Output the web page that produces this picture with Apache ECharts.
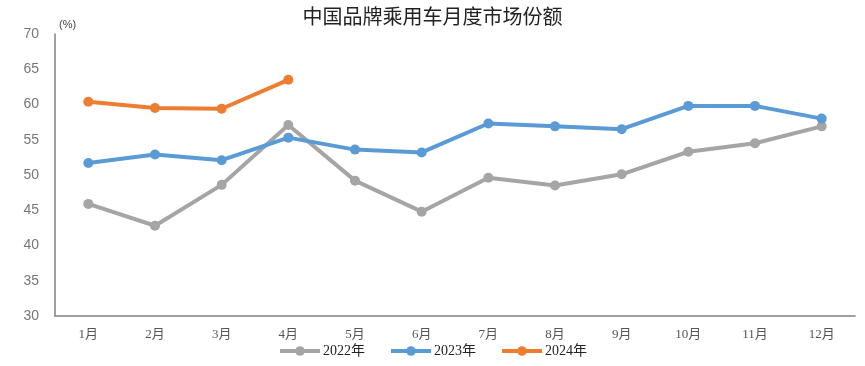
<!DOCTYPE html>
<html><head><meta charset="utf-8">
<script src="https://cdn.jsdelivr.net/npm/echarts@6/dist/echarts.min.js"></script>
<style>html,body{margin:0;padding:0;background:#fff}#c{width:865px;height:366px}</style>
</head><body><div id="c"></div>
<script>
const categories = ['1月','2月','3月','4月','5月','6月','7月','8月','9月','10月','11月','12月'];
const s2022 = [45.9, 42.8, 48.6, 57.1, 49.2, 44.8, 49.6, 48.5, 50.1, 53.3, 54.5, 56.9];
const s2023 = [51.7, 52.9, 52.1, 55.3, 53.6, 53.2, 57.3, 56.9, 56.5, 59.8, 59.8, 58.0];
const s2024 = [60.4, 59.5, 59.4, 63.5];
const seriesNames = ['2022年','2023年','2024年'];
const colors = ['#A5A5A5','#5B9BD5','#ED7D31'];
const yMin = 30, yMax = 70, yStep = 5;

const chart = echarts.init(document.getElementById('c'));
const mk = (name, data, color) => ({
  name, type: 'line', data, color,
  symbol: 'circle', symbolSize: 10,
  lineStyle: { width: 4, color }, itemStyle: { color },
  animation: false
});
chart.setOption({
  animation: false,
  title: {
    text: '中国品牌乘用车月度市场份额', left: 'center', top: 1,
    textStyle: { fontFamily: 'Noto Sans CJK SC', fontWeight: 'normal', fontSize: 20, color: '#222' }
  },
  grid: { left: 55, right: 10, top: 34, bottom: 50 },
  legend: {
    bottom: 3, left: 'center', itemWidth: 40, itemHeight: 12, itemGap: 24,
    lineStyle: { width: 4 },
    textStyle: { fontFamily: 'Liberation Serif, Noto Sans CJK SC', fontSize: 14, color: '#222', padding: [0, 0, 0, -2] },
    data: seriesNames
  },
  xAxis: {
    type: 'category', data: categories, boundaryGap: true,
    axisLine: { lineStyle: { color: '#808080', width: 1.5 } },
    axisTick: { show: false },
    axisLabel: { color: '#555', fontSize: 13, margin: 12, fontFamily: 'Liberation Serif, Noto Sans CJK SC' }
  },
  yAxis: {
    type: 'value', min: yMin, max: yMax, interval: yStep,
    name: '(%)', nameLocation: 'end', nameGap: 4,
    nameTextStyle: { color: '#444', fontSize: 11, align: 'left', padding: [0, 0, 0, 4] },
    axisLine: { show: true, lineStyle: { color: '#808080', width: 1.5 } },
    axisTick: { show: false },
    splitLine: { show: false },
    axisLabel: { color: '#777', fontSize: 14, margin: 16, fontFamily: 'Liberation Sans' }
  },
  series: [mk(seriesNames[0], s2022, colors[0]), mk(seriesNames[1], s2023, colors[1]), mk(seriesNames[2], s2024, colors[2])]
});
</script></body></html>
